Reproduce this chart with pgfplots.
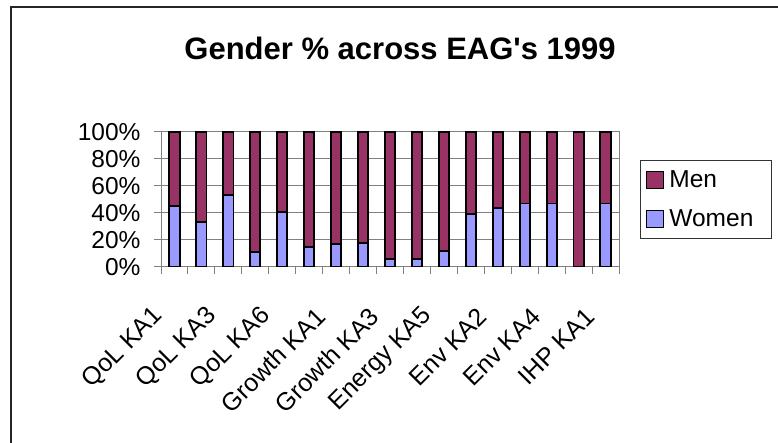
\documentclass[border=0pt]{standalone}
\usepackage{pgfplots}
\pgfplotsset{compat=1.18}
\usepackage{fontspec}
\setmainfont{Liberation Sans}[Ligatures=TeXOff]
\definecolor{women}{HTML}{9999FF}
\definecolor{men}{HTML}{993366}
\definecolor{axgray}{HTML}{808080}
\begin{document}
\begin{tikzpicture}
\useasboundingbox (0bp,0bp) rectangle (778bp,443bp);
\draw[line width=1.5bp, black!85] (11bp,-20bp) -- (11bp,436bp) -- (800bp,436bp);
\begin{axis}[
  at={(161bp,176bp)}, anchor=south west,
  width=458bp, height=135bp, scale only axis,
  ybar stacked, bar width=10.2bp,
  xmin=0.5, xmax=17.5, ymin=0, ymax=100,
  /pgf/number format/assume math mode=true,
  ytick={0,20,...,100},
  yticklabel={\pgfmathprintnumber{\tick}\%},
  yticklabel style={font=\fontsize{24.5bp}{28bp}\selectfont, anchor=east, xshift=-10bp},
  ymajorgrids, grid style={axgray, line width=1bp},
  axis line style={axgray, line width=1bp},
  tick style={axgray, line width=1bp},
  tick align=outside, major tick length=7bp,
  ytick pos=left, xtick pos=bottom,
  xtick={0.5,1.5,...,17.5}, xticklabels={},
  extra x ticks={1,3,...,17},
  extra x tick labels={QoL KA1,QoL KA3,QoL KA6,Growth KA1,Growth KA3,Energy KA5,Env KA2,Env KA4,IHP KA1},
  extra x tick style={major tick length=0pt, grid=none,
    tick label style={font=\fontsize{25bp}{28bp}\selectfont, xshift=-13bp, yshift=-43bp, rotate=45, anchor=east}},
  title={\textbf{Gender \% across EAG's 1999}},
  title style={font=\fontsize{31bp}{34bp}\selectfont, at={(0.522,1)}, anchor=base, yshift=67bp},
  legend style={at={(1.0459,0.793)}, anchor=north west, draw=black!80, line width=0.8bp,
    font=\fontsize{24.5bp}{28bp}\selectfont, inner xsep=4bp, inner ysep=3.5bp,
    nodes={inner sep=2bp, text height=22bp, text depth=6bp}, row sep=7bp},
  legend cell align=left,
  reverse legend,
  legend image code/.code={\path[draw=none, fill=none] (0bp,0bp) -- (23bp,0bp); \draw[#1, line width=1.4bp] (2bp,-8.5bp) rectangle (19bp,8.5bp);},
]
\addplot[fill=women, draw=black, line width=1.9bp] coordinates {
(1,45) (2,33) (3,53) (4,11) (5,41) (6,15) (7,17) (8,18) (9,6) (10,6)
(11,12) (12,39) (13,44) (14,47) (15,47) (16,0) (17,47)};
\addplot[fill=men, draw=black, line width=1.9bp] coordinates {
(1,55) (2,67) (3,47) (4,89) (5,59) (6,85) (7,83) (8,82) (9,94) (10,94)
(11,88) (12,61) (13,56) (14,53) (15,53) (16,100) (17,53)};
\legend{Women\hspace*{12bp},Men}
\end{axis}
\end{tikzpicture}
\end{document}
